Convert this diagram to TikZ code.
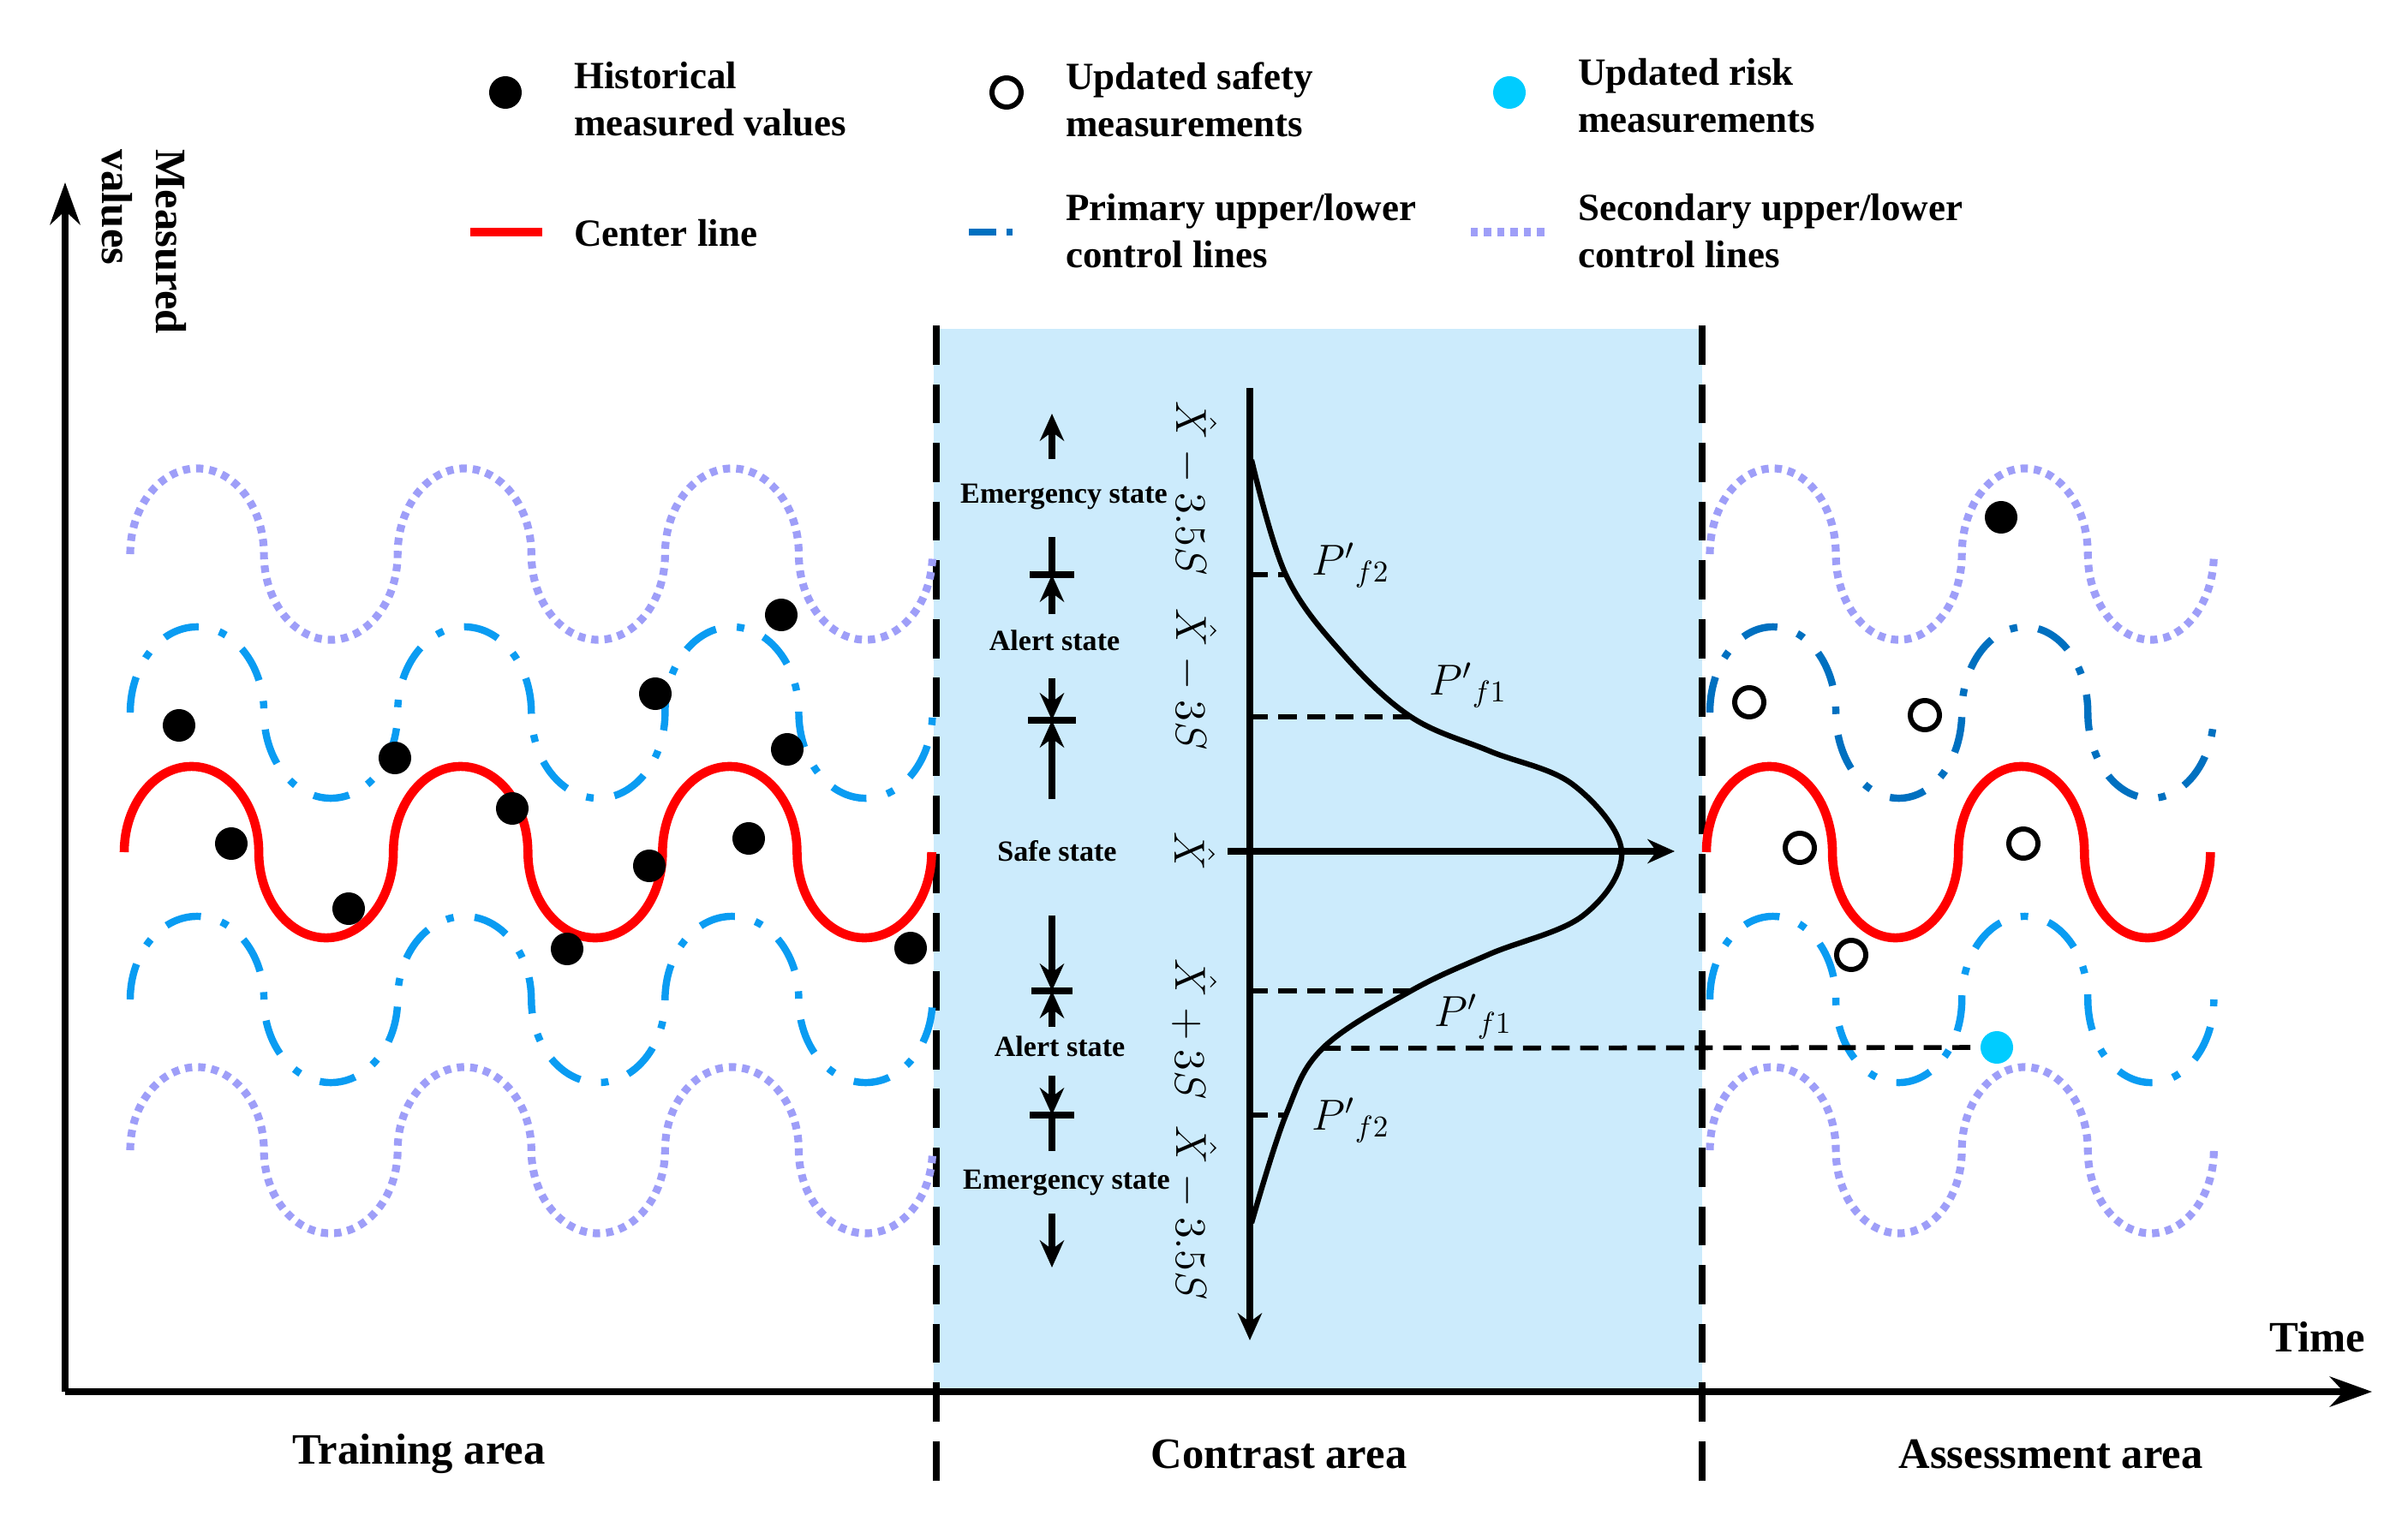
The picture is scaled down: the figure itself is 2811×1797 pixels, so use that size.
\documentclass[tikz,border=0pt]{standalone}
\usepackage{fontspec}
\setmainfont{Liberation Serif}
\usetikzlibrary{arrows.meta}
\definecolor{lav}{HTML}{9E9EF8}
\definecolor{lblue}{HTML}{0A9CF2}
\definecolor{dblue}{HTML}{0070C0}
\definecolor{cyanr}{HTML}{00CCFF}
\definecolor{area}{HTML}{CCEBFC}
\newcommand\arcpair[2]{arc(180:0:#1 and #2) arc(180:360:#1 and #2)}
\begin{document}
\begin{tikzpicture}[x=0.01cm,y=-0.01cm,
  centerl/.style={red,line width=3pt},
  prim/.style={lblue,line width=2.4pt,dash pattern=on 12pt off 7pt on 2.5pt off 7pt},
  primd/.style={prim,dblue},
  sec/.style={lav,line width=2.6pt,dash pattern=on 2.4pt off 2pt},
  hist/.style={circle,fill=black,inner sep=0pt,minimum size=0.38cm},
  safe/.style={circle,draw=black,line width=1.7pt,fill=white,inner sep=0pt,minimum size=0.34cm},
  risk/.style={circle,fill=cyanr,inner sep=0pt,minimum size=0.38cm},
  leg/.style={font=\bfseries\fontsize{12.8}{15.6}\selectfont,align=left,anchor=west},
  st/.style={font=\bfseries\fontsize{9.7}{11}\selectfont},
  ml/.style={rotate=-90,font=\fontsize{14.5}{16}\selectfont},
  pl/.style={font=\fontsize{14}{16}\selectfont},
  ar/.style={line width=2pt,-{Stealth[length=9pt,width=8pt]}},
  thk/.style={line width=2pt},
  dsh/.style={line width=1.6pt,dash pattern=on 6pt off 3.5pt},
  vdash/.style={line width=2.2pt,dash pattern=on 13pt off 6.5pt}]
\useasboundingbox (0,0) rectangle (2811,1797);
% contrast area
\fill[area] (1090,384) rectangle (1987,1625);
% axes
\coordinate (O) at (76,1625);
\coordinate (Ytop) at (76,213);
\coordinate (Xend) at (2769,1625);
\draw[line width=2pt,-{Stealth[length=14pt,width=10pt]}] (O) -- (Ytop);
\draw[line width=2pt,-{Stealth[length=14pt,width=10pt]}] (O) -- (Xend);
\coordinate (d1t) at (1093,380); \coordinate (d1b) at (1093,1730);
\coordinate (d2t) at (1987,380); \coordinate (d2b) at (1987,1730);
\draw[vdash] (d1t) -- (d1b);
\draw[vdash] (d2t) -- (d2b);
% labels
\node[rotate=-90,font=\bfseries\fontsize{14.4}{18}\selectfont,align=left] (ylab) at (168,282) {Measured\\values};
\node[font=\bfseries\fontsize{14.4}{17}\selectfont] (time) at (2705,1561) {Time};
\node[font=\bfseries\fontsize{14.4}{17}\selectfont] (tra) at (489,1698) {Training area};
\node[font=\bfseries\fontsize{14.4}{17}\selectfont] (cra) at (1493,1698) {Contrast area};
\node[font=\bfseries\fontsize{14.4}{17}\selectfont] (asa) at (2394,1698) {Assessment area};
% legend
\node[hist] (L1) at (590,108) {};
\node[leg] (L1t) at (658,116) {Historical\\measured values};
\node[safe] (L2) at (1175,108) {};
\node[leg] (L2t) at (1232,116) {Updated safety\\measurements};
\node[risk] (L3) at (1762,108) {};
\node[leg] (L3t) at (1830,112) {Updated risk\\measurements};
\coordinate (L4a) at (549,271); \coordinate (L4b) at (633,271);
\draw[centerl] (L4a) -- (L4b);
\node[leg] (L4t) at (658,272) {Center line};
\coordinate (L5a) at (1131,271); \coordinate (L5b) at (1206,271);
\draw[primd,dash pattern=on 9pt off 3.5pt on 2pt off 10pt] (L5a) -- (L5b);
\node[leg] (L5t) at (1232,270) {Primary upper/lower\\control lines};
\coordinate (L6a) at (1717,271); \coordinate (L6b) at (1805,271);
\draw[sec] (L6a) -- (L6b);
\node[leg] (L6t) at (1830,270) {Secondary upper/lower\\control lines};
% training waves
\draw[sec] (152,647) \arcpair{0.78cm}{1cm} \arcpair{0.78cm}{1cm} \arcpair{0.78cm}{1cm};
\draw[prim] (152,832) \arcpair{0.78cm}{1cm} \arcpair{0.78cm}{1cm} \arcpair{0.78cm}{1cm};
\draw[centerl] (145,995) \arcpair{0.785cm}{1cm} \arcpair{0.785cm}{1cm} \arcpair{0.785cm}{1cm};
\draw[prim] (152,1167) \arcpair{0.78cm}{0.97cm} \arcpair{0.78cm}{0.97cm} \arcpair{0.78cm}{0.97cm};
\draw[sec] (152,1343) \arcpair{0.78cm}{0.97cm} \arcpair{0.78cm}{0.97cm} \arcpair{0.78cm}{0.97cm};
% assessment waves
\draw[sec] (1996,647) \arcpair{0.735cm}{1cm} \arcpair{0.735cm}{1cm};
\draw[primd] (1996,832) \arcpair{0.735cm}{1cm} \arcpair{0.735cm}{1cm};
\draw[centerl] (1992,995) \arcpair{0.735cm}{1cm} \arcpair{0.735cm}{1cm};
\draw[prim] (1996,1167) \arcpair{0.735cm}{0.97cm} \arcpair{0.735cm}{0.97cm};
\draw[sec] (1996,1343) \arcpair{0.735cm}{0.97cm} \arcpair{0.735cm}{0.97cm};
% historical points
\foreach \n/\x/\y in {h1/209/847,h2/270/985,h3/407/1061,h4/461/885,h5/598/944,h6/662/1108,h7/765/810,h8/758/1011,h9/912/718,h10/919/875,h11/874/979,h12/1063/1107,h13/2336/604}
  \node[hist] (\n) at (\x,\y) {};
\foreach \n/\x/\y in {s1/2042/820,s2/2247/835,s3/2101/990,s4/2362/985,s5/2161/1115}
  \node[safe] (\n) at (\x,\y) {};
\node[risk] (r1) at (2331,1223) {};
% distribution axes
\coordinate (vt) at (1459,453); \coordinate (vb) at (1459,1565);
\coordinate (hl) at (1433,994); \coordinate (hr) at (1955,994);
\draw[ar] (vt) -- (vb);
\draw[ar] (hl) -- (hr);
\draw[line width=1.8pt] plot[smooth,tension=0.6] coordinates {(1461,537) (1501,671) (1567,763) (1647,837) (1739,877) (1836,916) (1893,994) (1848,1069) (1739,1114) (1647,1157) (1544,1224) (1501,1302) (1461,1428)};
\coordinate (a1) at (1459,671); \coordinate (b1) at (1501,671);
\coordinate (a2) at (1459,837); \coordinate (b2) at (1650,837);
\coordinate (a3) at (1459,1157); \coordinate (b3) at (1650,1157);
\coordinate (b4) at (1544,1224);
\coordinate (a5) at (1459,1302); \coordinate (b5) at (1501,1302);
\draw[dsh] (a1) -- (b1);
\draw[dsh] (a2) -- (b2);
\draw[dsh] (a3) -- (b3);
\draw[dsh] (b4) -- (r1);
\draw[dsh] (a5) -- (b5);
\node[pl] (p1) at (1577,660) {$P'{}_{f2}$};
\node[pl] (p2) at (1714,800) {$P'{}_{f1}$};
\node[pl] (p3) at (1720,1187) {$P'{}_{f1}$};
\node[pl] (p4) at (1577,1308) {$P'{}_{f2}$};
\node[ml] (m1) at (1395,570) {$\hat{X}-3.5S$};
\node[ml] (m2) at (1395,793) {$\hat{X}-3S$};
\node[ml] (m3) at (1395,994) {$\hat{X}$};
\node[ml] (m4) at (1395,1202) {$\hat{X}+3S$};
\node[ml] (m5) at (1395,1416) {$\hat{X}-3.5S$};
% state markers
\node[st] (e1) at (1242,580) {Emergency state};
\node[st] (a1l) at (1231,748) {Alert state};
\node[st] (sf) at (1234,994) {Safe state};
\node[st] (a2l) at (1237,1222) {Alert state};
\node[st] (e2) at (1245,1381) {Emergency state};
\coordinate (u1) at (1228,536); \coordinate (u1e) at (1228,483);
\draw[ar] (u1) -- (u1e);
\coordinate (c1) at (1228,671); \coordinate (c1t) at (1228,627); \coordinate (c1b) at (1228,717);
\draw[thk] (1202,671) -- (1254,671);
\draw[thk] (c1t) -- (c1);
\draw[ar] (c1b) -- (c1);
\coordinate (c2) at (1228,841); \coordinate (c2t) at (1228,792); \coordinate (c2b) at (1228,933);
\draw[thk] (1200,841) -- (1256,841);
\draw[ar] (c2t) -- (c2);
\draw[ar] (c2b) -- (c2);
\coordinate (c3) at (1228,1157); \coordinate (c3t) at (1228,1069); \coordinate (c3b) at (1228,1199);
\draw[thk] (1204,1157) -- (1252,1157);
\draw[ar] (c3t) -- (c3);
\draw[ar] (c3b) -- (c3);
\coordinate (c4) at (1228,1302); \coordinate (c4t) at (1228,1256); \coordinate (c4b) at (1228,1344);
\draw[thk] (1202,1302) -- (1254,1302);
\draw[ar] (c4t) -- (c4);
\draw[thk] (c4) -- (c4b);
\coordinate (u2) at (1228,1417); \coordinate (u2e) at (1228,1480);
\draw[ar] (u2) -- (u2e);
\end{tikzpicture}
\end{document}
